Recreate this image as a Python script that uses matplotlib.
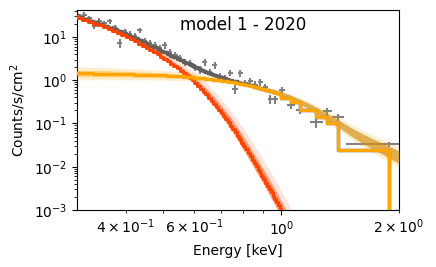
import numpy as np
import matplotlib
matplotlib.use('Agg')
import matplotlib.pyplot as plt

# data bins (keV) and count rates
energy = np.array([0.305, 0.314, 0.323, 0.333, 0.343, 0.353, 0.364, 0.375, 0.386, 0.398,
                   0.410, 0.422, 0.435, 0.448, 0.461, 0.475, 0.489, 0.504, 0.519, 0.535,
                   0.551, 0.567, 0.584, 0.602, 0.620, 0.638, 0.657, 0.677, 0.697, 0.718,
                   0.740, 0.762, 0.785, 0.808, 0.833, 0.858, 0.883, 0.910, 0.937, 0.965,
                   1.005, 1.06, 1.12, 1.23, 1.31, 1.40, 1.887])
energy_halfwidth = np.array([0.0045, 0.0045, 0.005, 0.005, 0.005, 0.0055, 0.0055, 0.0055, 0.006, 0.006,
                             0.006, 0.0065, 0.0065, 0.0065, 0.007, 0.007, 0.007, 0.0075, 0.008, 0.008,
                             0.008, 0.0085, 0.009, 0.009, 0.009, 0.0095, 0.01, 0.01, 0.0105, 0.011,
                             0.011, 0.0115, 0.0115, 0.012, 0.0125, 0.0125, 0.013, 0.0135, 0.0135, 0.015,
                             0.02, 0.025, 0.03, 0.045, 0.035, 0.05, 0.42])
counts = np.array([31, 33, 28, 17.7, 24, 21, 23, 17, 7.2, 13.5,
                   12.0, 10.5, 14.3, 8.2, 7.4, 6.5, 5.6, 6.4, 4.4, 3.9,
                   3.3, 2.6, 2.5, 2.0, 1.75, 2.6, 1.55, 2.2, 1.25, 1.1,
                   1.5, 0.62, 1.45, 0.85, 0.95, 0.78, 0.9, 0.7, 0.37, 0.36,
                   0.59, 0.27, 0.21, 0.107, 0.19, 0.14, 0.033])
counts_relerr = np.array([0.12, 0.12, 0.12, 0.15, 0.12, 0.13, 0.13, 0.14, 0.22, 0.15,
                          0.15, 0.16, 0.15, 0.17, 0.17, 0.17, 0.18, 0.17, 0.18, 0.18,
                          0.19, 0.2, 0.2, 0.2, 0.2, 0.18, 0.2, 0.18, 0.2, 0.2,
                          0.18, 0.22, 0.18, 0.2, 0.2, 0.2, 0.2, 0.2, 0.22, 0.22,
                          0.18, 0.2, 0.22, 0.25, 0.2, 0.2, 0.12])

# folded model on the channel grid
model_energy = np.array([0.30, 0.31, 0.32, 0.33, 0.34, 0.35, 0.36, 0.37, 0.38, 0.39,
                         0.40, 0.41, 0.42, 0.43, 0.44, 0.45, 0.46, 0.47, 0.48, 0.49,
                         0.50, 0.51, 0.52, 0.53, 0.54, 0.55, 0.56, 0.57, 0.58, 0.59,
                         0.60, 0.61, 0.62, 0.63, 0.64, 0.65, 0.66, 0.67, 0.68, 0.69,
                         0.70, 0.71, 0.72, 0.73, 0.74, 0.75, 0.76, 0.77, 0.78, 0.79,
                         0.80, 0.81, 0.82, 0.83, 0.84, 0.85, 0.86, 0.87, 0.88, 0.89,
                         0.90, 0.91, 0.92, 0.93, 0.94, 0.95, 0.96, 0.97, 0.98, 0.99,
                         1.00, 1.06, 1.12, 1.23, 1.31, 1.40, 1.887])
soft_model = np.array([30.0, 27.2, 24.7, 22.4, 20.4, 18.5, 16.7, 15.0, 13.5, 12.2,
                       11.0, 9.84, 8.79, 7.87, 7.03, 6.30, 5.60, 4.98, 4.43, 3.94,
                       3.50, 3.09, 2.73, 2.41, 2.13, 1.88, 1.66, 1.46, 1.29, 1.135,
                       1.0, 0.859, 0.738, 0.634, 0.545, 0.468, 0.398, 0.339, 0.288, 0.245,
                       0.209, 0.176, 0.149, 0.125, 0.106, 0.0891, 0.0745, 0.0622, 0.0520, 0.0435,
                       0.0363, 0.0302, 0.0251, 0.0209, 0.0174, 0.0145, 0.0122, 0.0102, 0.0086, 0.00724,
                       0.0061, 0.00513, 0.00432, 0.00363, 0.00305, 0.00257, 0.00216, 0.00182, 0.00153, 0.00129,
                       0.00108, 0.0004, 8e-5, 8e-6, 1.5e-6, 3e-7, 1e-10])
hard_model = np.array([1.45, 1.444, 1.438, 1.432, 1.426, 1.42, 1.412, 1.404, 1.396, 1.388,
                       1.38, 1.372, 1.364, 1.356, 1.348, 1.34, 1.332, 1.324, 1.316, 1.308,
                       1.30, 1.288, 1.276, 1.264, 1.252, 1.24, 1.226, 1.212, 1.198, 1.184,
                       1.17, 1.154, 1.138, 1.122, 1.106, 1.09, 1.072, 1.054, 1.036, 1.018,
                       1.00, 0.982, 0.964, 0.946, 0.928, 0.91, 0.892, 0.874, 0.856, 0.838,
                       0.82, 0.80, 0.78, 0.76, 0.74, 0.72, 0.702, 0.684, 0.666, 0.648,
                       0.63, 0.614, 0.598, 0.582, 0.566, 0.55, 0.536, 0.522, 0.508, 0.494,
                       0.48, 0.39, 0.31, 0.20, 0.145, 0.10, 0.024])

# smooth posterior curves and band half-widths (dex)
band_energy = np.array([0.30, 0.35, 0.40, 0.45, 0.50, 0.55, 0.60, 0.65, 0.70, 0.75,
                        0.80, 0.85, 0.90, 0.95, 1.00, 1.05, 1.10, 1.2, 1.3, 1.4,
                        1.5, 1.6, 1.7, 1.8, 1.9, 2.0])
soft_curve = np.array([30, 18.5, 11.0, 6.3, 3.5, 1.88, 1.0, 0.468, 0.209, 0.0891,
                       0.0363, 0.0145, 0.0061, 0.00257, 0.00108, 0.00045, 0.00018, 3e-5, 4e-6, 6e-7,
                       1e-7, 2e-8, 4e-9, 8e-10, 2e-10, 4e-11])
hard_curve = np.array([1.45, 1.42, 1.38, 1.34, 1.30, 1.24, 1.17, 1.09, 1.00, 0.91,
                       0.82, 0.72, 0.63, 0.55, 0.48, 0.41, 0.34, 0.23, 0.15, 0.10,
                       0.066, 0.047, 0.035, 0.027, 0.021, 0.0167])
soft_w_in = np.array([0.02, 0.02, 0.03, 0.03, 0.04, 0.06, 0.08, 0.10, 0.12, 0.14,
                      0.15, 0.16, 0.17, 0.18, 0.19, 0.2, 0.2, 0.2, 0.2, 0.2,
                      0.2, 0.2, 0.2, 0.2, 0.2, 0.2])
soft_w_out = np.array([0.04, 0.05, 0.06, 0.08, 0.11, 0.14, 0.18, 0.22, 0.26, 0.30,
                       0.33, 0.36, 0.38, 0.40, 0.42, 0.44, 0.46, 0.5, 0.5, 0.5,
                       0.5, 0.5, 0.5, 0.5, 0.5, 0.5])
hard_w_in = np.array([0.07, 0.07, 0.065, 0.06, 0.055, 0.05, 0.045, 0.04, 0.035, 0.03,
                      0.03, 0.03, 0.03, 0.035, 0.04, 0.045, 0.05, 0.06, 0.07, 0.08,
                      0.09, 0.10, 0.11, 0.12, 0.13, 0.14])
hard_w_out = np.array([0.15, 0.14, 0.13, 0.12, 0.11, 0.10, 0.09, 0.08, 0.07, 0.06,
                       0.06, 0.06, 0.065, 0.07, 0.075, 0.08, 0.09, 0.11, 0.13, 0.15,
                       0.17, 0.19, 0.2, 0.21, 0.22, 0.23])
total_w = np.array([0.03, 0.03, 0.03, 0.03, 0.03, 0.03, 0.03, 0.03, 0.03, 0.03,
                    0.03, 0.03, 0.035, 0.04, 0.045, 0.05, 0.055, 0.065, 0.075, 0.085,
                    0.095, 0.105, 0.115, 0.125, 0.135, 0.145])

total_model = soft_model + hard_model
total_curve = soft_curve + hard_curve
# model is zero past the last bin
step_energy = np.append(model_energy, energy[-1] + energy_halfwidth[-1])

fig = plt.figure(figsize=(4.36, 2.67), dpi=100)
ax = fig.add_axes([0.1766, 0.2135, 0.7385, 0.749])

ax.errorbar(energy, counts, xerr=energy_halfwidth, yerr=counts * counts_relerr,
            fmt='none', ecolor='gray', elinewidth=1.5, capsize=0, zorder=1)

# total
ax.fill_between(band_energy, total_curve * 10**(-total_w), total_curve * 10**total_w,
                color='#7a6040', alpha=0.45, lw=0, zorder=2)
ax.step(step_energy, np.append(total_model, 0.0), where='pre', color='#5f5f5f', lw=2.5, zorder=2)

# soft component
ax.fill_between(band_energy, soft_curve * 10**(-soft_w_in), soft_curve * 10**soft_w_out,
                color='orangered', alpha=0.15, lw=0, zorder=3)
ax.fill_between(band_energy, soft_curve * 10**(-soft_w_in), soft_curve * 10**soft_w_in,
                color='orangered', alpha=0.45, lw=0, zorder=3)
ax.step(step_energy, np.append(soft_model, 0.0), where='pre', color='orangered', lw=2.2, zorder=3)

# hard component
ax.fill_between(band_energy, hard_curve * 10**(-hard_w_out), hard_curve * 10**hard_w_out,
                color='orange', alpha=0.2, lw=0, zorder=3)
ax.fill_between(band_energy, hard_curve * 10**(-hard_w_in), hard_curve * 10**hard_w_in,
                color='orange', alpha=0.4, lw=0, zorder=3)
ax.step(step_energy, np.append(hard_model, 0.0), where='pre', color='orange', lw=2.3, zorder=3)

ax.set_xscale('log')
ax.set_yscale('log')
ax.set_xlim(0.3005, 2.0)
ax.set_ylim(1e-3, 42)
ax.set_xlabel('Energy [keV]')
ax.set_ylabel('Counts/s/cm$^2$')
ax.text(0.516, 0.925, 'model 1 - 2020', transform=ax.transAxes, ha='center', va='center', fontsize=12)

plt.savefig('out.png', dpi=100)
